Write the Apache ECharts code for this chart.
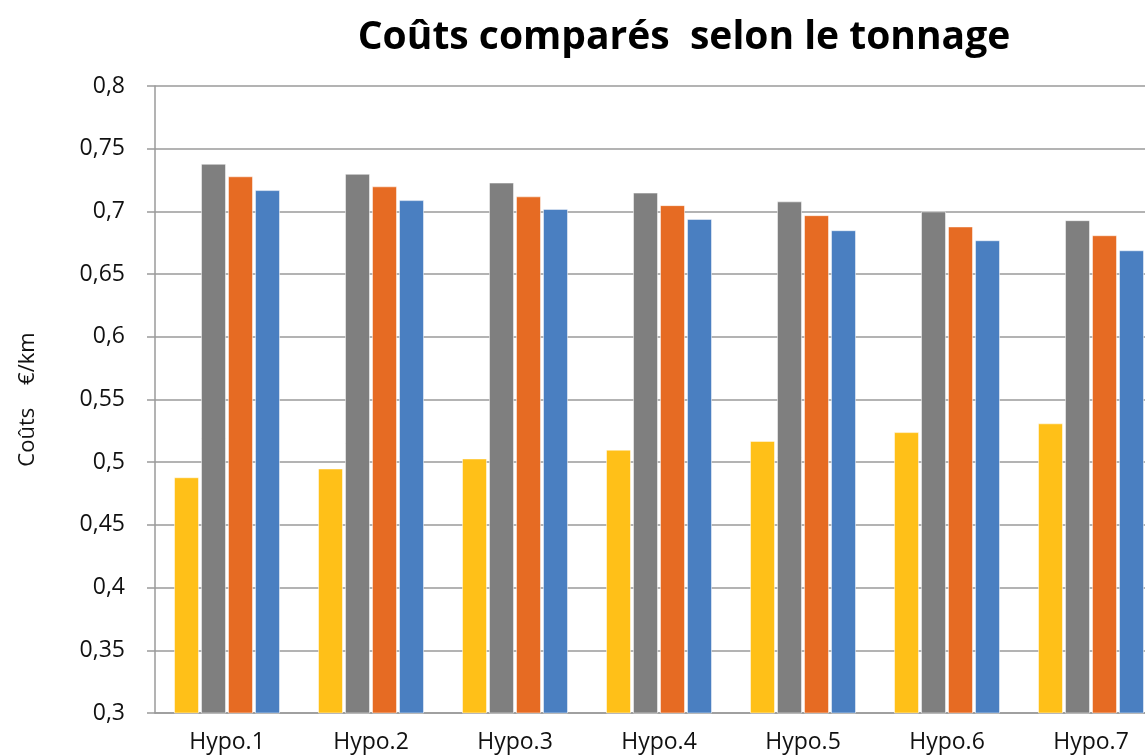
<!DOCTYPE html>
<html>
<head>
<meta charset="utf-8">
<script src="https://cdn.jsdelivr.net/npm/echarts@6/dist/echarts.min.js"></script>
<style>
  html, body { margin: 0; padding: 0; background: #fff; overflow: hidden; }
  /* the plot runs a little past the right edge of the window */
  #chart { width: 1163px; height: 756px; }
</style>
</head>
<body>
<div id="chart"></div>
<script>
// Coûts par hypothèse (€/km)
const categories = ['Hypo.1', 'Hypo.2', 'Hypo.3', 'Hypo.4', 'Hypo.5', 'Hypo.6', 'Hypo.7'];
const serieJaune  = [0.488, 0.495, 0.503, 0.510, 0.517, 0.524, 0.531];
const serieGrise  = [0.738, 0.730, 0.723, 0.715, 0.708, 0.700, 0.693];
const serieOrange = [0.728, 0.720, 0.712, 0.705, 0.697, 0.688, 0.681];
const serieBleue  = [0.717, 0.709, 0.702, 0.694, 0.685, 0.677, 0.669];
const seriesNames = ['Série 1', 'Série 2', 'Série 3', 'Série 4'];
const colors = ['#FFC018', '#7F7F7F', '#E66B23', '#4A7FC1'];

const font = '"Open Sans", sans-serif';
const chart = echarts.init(document.getElementById('chart'));

const mkBar = (name, data, color) => ({
  name, type: 'bar', data,
  barWidth: 25, barGap: '8%',
  itemStyle: { color, borderColor: 'rgba(255,255,255,0.5)', borderWidth: 1 }
});

chart.setOption({
  animation: false,
  title: {
    text: 'Coûts comparés  selon le tonnage',
    left: 679, top: 13, textAlign: 'center',
    textStyle: { fontFamily: font, fontWeight: 'bold', fontSize: 39, color: '#000' }
  },
  grid: { left: 155, top: 86, right: 0, bottom: 43 },
  xAxis: {
    type: 'category', data: categories,
    axisLine: { lineStyle: { color: '#9a9a9a', width: 1.5 } },
    axisTick: { show: false },
    axisLabel: { fontFamily: font, fontSize: 23, color: '#111', margin: 18 }
  },
  yAxis: {
    type: 'value', min: 0.3, max: 0.8, interval: 0.05,
    name: 'Coûts    €/km', nameLocation: 'middle', nameGap: 116,
    nameTextStyle: { fontFamily: font, fontSize: 22, color: '#111' },
    axisLine: { show: true, lineStyle: { color: '#9a9a9a', width: 1.5 } },
    axisTick: { show: true, length: 8, lineStyle: { color: '#9a9a9a', width: 1.5 } },
    splitLine: { lineStyle: { color: '#9a9a9a', width: 1.5 } },
    axisLabel: {
      fontFamily: font, fontSize: 23, color: '#111', margin: 30,
      formatter: v => String(+v.toFixed(2)).replace('.', ',')
    }
  },
  series: [
    mkBar(seriesNames[0], serieJaune, colors[0]),
    mkBar(seriesNames[1], serieGrise, colors[1]),
    mkBar(seriesNames[2], serieOrange, colors[2]),
    mkBar(seriesNames[3], serieBleue, colors[3])
  ]
});
</script>
</body>
</html>
